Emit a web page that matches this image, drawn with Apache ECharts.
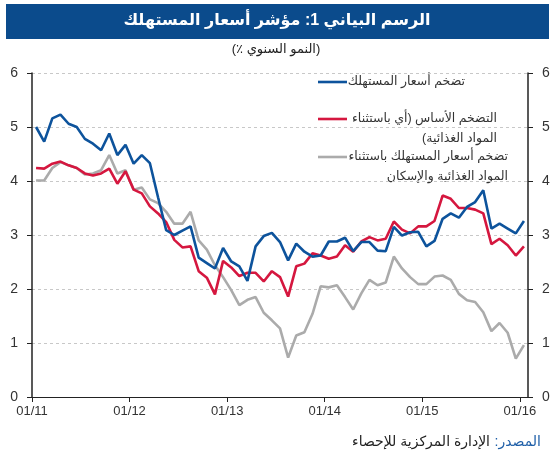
<!DOCTYPE html>
<html>
<head>
<meta charset="utf-8">
<script src="https://cdn.jsdelivr.net/npm/echarts@6/dist/echarts.min.js"></script>
<style>
html,body{margin:0;padding:0;background:#fff;}
#chart{width:554px;height:457px;}
</style>
</head>
<body>
<div id="chart"></div>
<script>
// التسميات والبيانات (شهري من 01/11 إلى 01/16)
var xTickLabels = ['01/11', '01/12', '01/13', '01/14', '01/15', '01/16'];

// تضخم أسعار المستهلك
var cpi = [5.0, 4.73, 5.16, 5.23, 5.06, 5.0, 4.78, 4.69, 4.57, 4.88, 4.48, 4.67,
    4.32, 4.48, 4.33, 3.7, 3.09, 3.0, 3.08, 3.16, 2.58, 2.48, 2.38, 2.76,
    2.51, 2.42, 2.15, 2.79, 2.98, 3.04, 2.87, 2.53, 2.84, 2.69, 2.6, 2.62,
    2.88, 2.88, 2.95, 2.7, 2.87, 2.87, 2.71, 2.7, 3.15, 2.99, 3.05, 3.06,
    2.79, 2.89, 3.3, 3.4, 3.32, 3.52, 3.61, 3.83, 3.12, 3.21, 3.12, 3.03, 3.26];

// التضخم الأساس
var core = [4.24, 4.23, 4.32, 4.36, 4.29, 4.24, 4.14, 4.1, 4.14, 4.23, 3.95, 4.18,
    3.84, 3.77, 3.53, 3.4, 3.24, 2.91, 2.77, 2.79, 2.33, 2.21, 1.9, 2.52,
    2.4, 2.24, 2.3, 2.3, 2.14, 2.33, 2.22, 1.86, 2.42, 2.47, 2.66, 2.62,
    2.56, 2.6, 2.81, 2.69, 2.88, 2.96, 2.9, 2.93, 3.25, 3.1, 3.03, 3.16,
    3.16, 3.26, 3.73, 3.67, 3.5, 3.5, 3.47, 3.4, 2.83, 2.93, 2.81, 2.62, 2.79];

// باستثناء المواد الغذائية والإسكان
var exFoodHousing = [4.01, 4.01, 4.24, 4.35, 4.29, 4.24, 4.12, 4.14, 4.2, 4.48, 4.14, 4.2,
    3.84, 3.88, 3.66, 3.59, 3.43, 3.21, 3.21, 3.43, 2.9, 2.73, 2.44, 2.22,
    1.98, 1.7, 1.8, 1.85, 1.56, 1.42, 1.27, 0.73, 1.14, 1.2, 1.54, 2.05,
    2.03, 2.07, 1.85, 1.62, 1.92, 2.17, 2.07, 2.12, 2.6, 2.38, 2.22, 2.09,
    2.09, 2.23, 2.25, 2.17, 1.91, 1.79, 1.76, 1.57, 1.22, 1.37, 1.19, 0.71, 0.96];

var colors = ['#0d539c', '#d5173f', '#ababab'];

function toPoints(arr) {
    return arr.map(function (v, i) { return [i + 0.5, v]; });
}
// نص من اليمين إلى اليسار داخل اللوحة
function rtl(s) {
    return '\u202B' + s + '\u202C';
}

var font = 'Liberation Sans, Arial, DejaVu Sans, sans-serif';

function label(text, x, y, size, color, align, weight) {
    return {type: 'text', x: x, y: y, style: {text: rtl(text), fill: color,
        font: (weight || '') + ' ' + size + 'px ' + font, textAlign: align, textVerticalAlign: 'middle'}};
}

var dom = document.getElementById('chart');
var myChart = echarts.init(dom);
var option = {
    animation: false,
    grid: {left: 32, right: 26, top: 73, bottom: 60},
    xAxis: {
        type: 'value',
        min: 0,
        max: 61,
        interval: 12,
        splitLine: {show: false},
        axisLine: {lineStyle: {color: '#222', width: 1.2}},
        axisTick: {length: 5, lineStyle: {color: '#222'}},
        axisLabel: {
            color: '#333', fontSize: 13, fontFamily: font, margin: 8, showMaxLabel: false,
            formatter: function (v) {
                return v % 12 === 0 ? xTickLabels[v / 12] : '';
            }
        }
    },
    yAxis: [
        {
            type: 'value', min: 0, max: 6, interval: 1, position: 'left',
            axisLine: {show: true, lineStyle: {color: '#222', width: 1.5}},
            axisTick: {show: true, length: 5, lineStyle: {color: '#222'}},
            axisLabel: {color: '#333', fontSize: 14, fontFamily: font, margin: 14},
            splitLine: {lineStyle: {color: '#c8c8c8', type: [3, 3]}}
        },
        {
            type: 'value', min: 0, max: 6, interval: 1, position: 'right',
            axisLine: {show: true, lineStyle: {color: '#222', width: 1.5}},
            axisTick: {show: true, length: 5, lineStyle: {color: '#222'}},
            axisLabel: {color: '#333', fontSize: 14, fontFamily: font, margin: 14},
            splitLine: {show: false}
        }
    ],
    series: [
        {type: 'line', data: toPoints(exFoodHousing), symbol: 'none', color: colors[2], lineStyle: {width: 2.6}},
        {type: 'line', data: toPoints(core), symbol: 'none', color: colors[1], lineStyle: {width: 2.6}},
        {type: 'line', data: toPoints(cpi), symbol: 'none', color: colors[0], lineStyle: {width: 2.6}}
    ],
    graphic: [
        {type: 'rect', shape: {x: 6, y: 4, width: 543, height: 35}, style: {fill: '#0b4b8c'}},
        label('الرسم البياني 1: مؤشر أسعار المستهلك', 277, 21, 16, '#fff', 'center', 'bold'),
        label('(النمو السنوي ٪)', 276, 49, 13, '#222', 'center'),
        // وسيلة الإيضاح
        {type: 'line', shape: {x1: 318, y1: 82, x2: 347, y2: 82}, style: {stroke: colors[0], lineWidth: 2.6}},
        label('تضخم أسعار المستهلك', 465, 82, 12.5, '#333', 'right'),
        {type: 'line', shape: {x1: 318, y1: 119, x2: 347, y2: 119}, style: {stroke: colors[1], lineWidth: 2.6}},
        label('التضخم الأساس (أي باستثناء', 497, 119, 12.5, '#333', 'right'),
        label('المواد الغذائية)', 497, 139, 12.5, '#333', 'right'),
        {type: 'line', shape: {x1: 318, y1: 157, x2: 347, y2: 157}, style: {stroke: colors[2], lineWidth: 2.6}},
        label('تضخم أسعار المستهلك باستثناء', 508, 157, 12.5, '#333', 'right'),
        label('المواد الغذائية والإسكان', 508, 177, 12.5, '#333', 'right'),
        // المصدر
        label('المصدر:', 541, 442, 14, '#1f5fa8', 'right'),
        label('الإدارة المركزية للإحصاء', 490, 442, 14, '#222', 'right')
    ]
};
if (option && typeof option === 'object') {
    myChart.setOption(option, true);
}
</script>
</body>
</html>
